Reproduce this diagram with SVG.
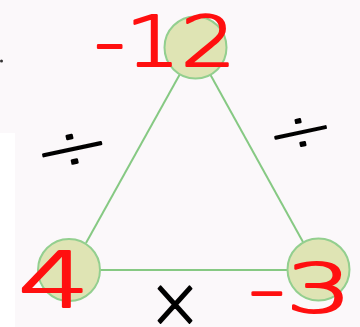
<svg xmlns="http://www.w3.org/2000/svg" width="360" height="327" viewBox="0 0 360 327">
<style>
.node{fill:#dfe4b4;stroke:#93cf8f;stroke-width:2}
.edge{stroke:#86c983;stroke-width:2;fill:none}
.red{fill:#ff1010;stroke:#ff1010;stroke-width:2.2;stroke-linejoin:round;font-family:"DejaVu Sans","Liberation Sans",sans-serif;font-weight:200}
.blk{fill:#000;stroke:#000;stroke-width:1.8;stroke-linejoin:round;font-family:"DejaVu Sans","Liberation Sans",sans-serif;font-weight:200}
</style>
<rect width="360" height="327" fill="#fbf8fa"/>
<rect x="0" y="133" width="15" height="194" fill="#ffffff"/>
<circle cx="1.5" cy="61" r="1.5" fill="#333"/>
<g id="connectors">
<line class="edge" x1="180" y1="74" x2="86" y2="243"/>
<line class="edge" x1="210" y1="74" x2="303" y2="242"/>
<line class="edge" x1="100" y1="270" x2="288" y2="270"/>
</g>
<g id="node-top"><circle class="node" cx="195.5" cy="47.5" r="31"/></g>
<g id="node-left"><circle class="node" cx="69" cy="270" r="31"/></g>
<g id="node-right"><circle class="node" cx="318.5" cy="269.5" r="31"/></g>
<g id="labels">
<text class="red" x="94" y="66" font-size="70" textLength="142" lengthAdjust="spacingAndGlyphs">-12</text>
<text class="red" x="18" y="307" font-size="76" textLength="72" lengthAdjust="spacingAndGlyphs">4</text>
<text class="red" x="248" y="312" font-size="68" textLength="104" lengthAdjust="spacingAndGlyphs">-3</text>
<text class="blk" x="33" y="168" font-size="60" textLength="78" lengthAdjust="spacingAndGlyphs" transform="rotate(-12 72 148)">÷</text>
<text class="blk" x="266" y="150" font-size="56" textLength="68" lengthAdjust="spacingAndGlyphs" transform="rotate(-12 300 130)">÷</text>
<text class="blk" x="148" y="327" font-size="72" textLength="54" lengthAdjust="spacingAndGlyphs">×</text>
</g>
</svg>
